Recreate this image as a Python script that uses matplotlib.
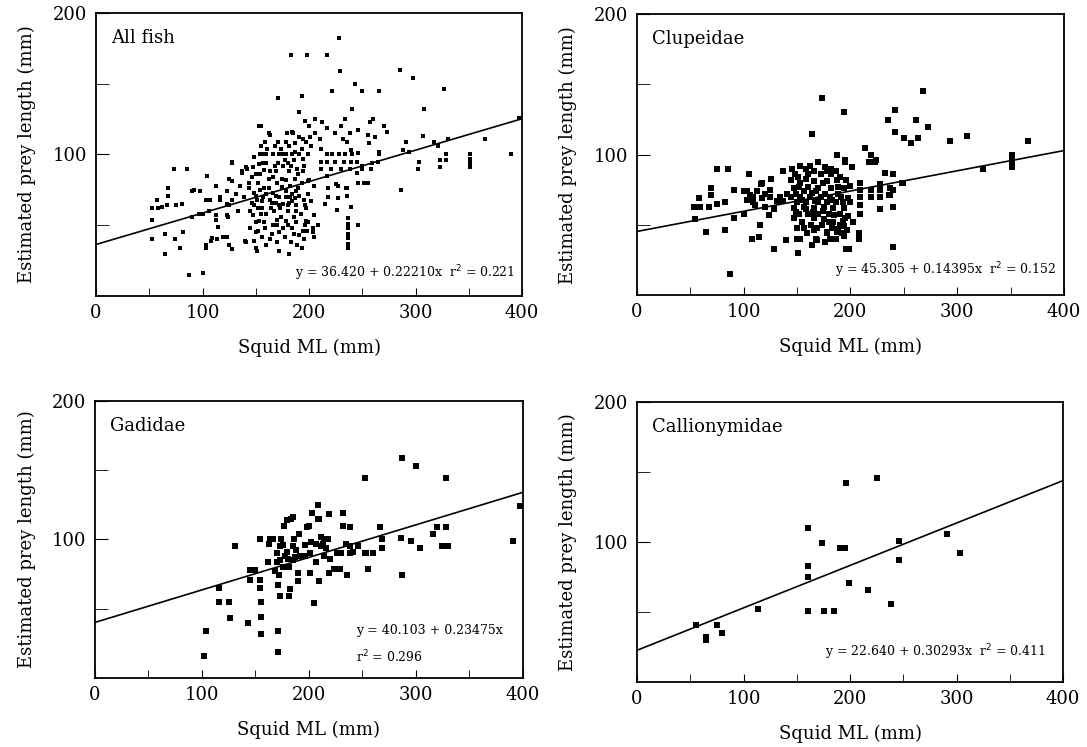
import matplotlib.pyplot as plt
from matplotlib.ticker import MultipleLocator

plt.rcParams['font.family'] = ['DejaVu Serif']

# ---- data (squid ML mm, prey length mm) ----
all_fish = [
    (228,182),(183,170),(198,170),(217,170),(229,159),(285,160),(298,154),(171,140),(193,141),(222,145),
    (243,150),(250,145),(266,145),(327,146),(240,132),(308,132),(191,130),(234,125),(260,125),(257,123),
    (196,124),(206,125),(212,123),(200,120),(217,119),(230,120),(155,120),(270,120),(273,116),(163,114),
    (179,115),(185,115),(206,115),(224,115),(238,115),(246,117),(255,114),(194,111),(201,112),(210,111),
    (232,111),(236,109),(262,112),(256,108),(291,109),(307,113),(317,109),(330,111),(365,111),(321,106),
    (397,126),(390,100),(288,103),(294,102),(303,95),(302,90),(323,96),(323,91),(329,100),(329,96),
    (351,100),(351,97),(351,94),(351,91),(266,100),(259,94),(250,92),(252,80),(255,80),(286,75),(246,50),
    (237,55),(237,51),(237,48),(237,44),(237,41),(237,37),(237,34),(204,48),(204,45),(205,42),
    (202,106),(211,104),(217,100),(211,95),(217,95),(224,95),(233,95),(239,95),(245,95),(246,101),
    (239,103),(211,90),(221,90),(230,90),(238,90),(245,87),(250,90),(258,90),(265,95),(266,102),
    (199,81),(205,78),(218,76),(227,78),(236,76),(218,70),(227,69),(236,71),(246,80),(217,85),
    (215,65),(226,61),(239,63),(202,67),(205,57),(199,52),(208,50),(225,79),(235,76),
    (222,100),(228,100),(234,100),(240,100),
    (154,100),(160,100),(166,100),(172,100),(178,100),(184,100),(191,100),
    (53,54),(53,62),(58,62),(57,68),(62,63),(68,76),(68,71),(67,64),(75,64),(81,65),(73,90),(85,90),
    (53,40),(65,44),(65,30),(74,40),(79,34),(82,45),(87,15),(100,16),(90,74),(90,56),(98,74),(97,58),
    (103,34),(104,85),(107,68),(108,39),(114,40),(123,42),(128,33),(128,94),(125,83),(113,78),(116,68),
    (113,54),(115,49),(123,74),(123,65),(124,56),(128,68),(137,87),(141,91),(139,70),(140,39),(151,32),
    (148,39),(128,81),(116,70),(125,64),(113,57),(123,57),(119,42),(125,36),(109,41),(103,36),(103,68),
    (106,60),(100,58),(92,75),
    (153,120),(162,115),(184,116),(159,109),(171,109),(178,109),(191,112),(197,109),(128,95),(137,88),
    (142,90),(147,91),(153,93),(156,100),(175,100),(187,102),(194,97),(158,89),(162,83),(169,88),
    (175,83),(181,88),(187,83),(194,88),(200,82),(144,76),(150,71),(156,67),(162,76),(169,71),(173,62),
    (178,74),(184,67),(191,71),(197,62),(147,57),(153,53),(150,45),(159,48),(166,50),(172,45),(178,53),
    (184,48),(191,43),(197,53),(141,38),(150,34),
    (146,84),(152,80),(158,76),(165,66),(170,80),(176,92),(182,78),(188,74),(193,80),(199,72),(146,66),
    (152,62),(160,58),(167,60),(174,56),(180,60),(186,56),(192,58),(198,46),(145,48),(156,42),(163,40),
    (170,38),(177,42),(183,38),(189,36),(195,40),(148,98),(155,106),(161,104),(168,106),(174,104),
    (181,106),(187,108),(193,104),(199,100),(144,80),(150,86),(157,94),(163,88),(171,94),(177,96),
    (183,92),(189,90),(195,92),(165,44),(172,32),(160,36),(181,30),(193,34),(145,60),(155,58),(135,78),
    (131,72),(133,60),(170,54),(176,65),(182,70),(188,64),(195,68),
    (148,73),(151,68),(154,75),(157,70),(160,72),(163,68),(166,73),(169,66),(172,70),(175,77),
    (178,70),(181,66),(184,72),(187,69),(190,76),(148,64),(156,62),(164,62),(172,64),(180,64),
    (188,60),(196,64),(150,52),(158,52),(170,50),(180,50),(188,52),(196,50),(154,86),(166,84),
    (178,82),(190,86),(160,94),(168,92),(180,94),(186,96),(152,46),(176,48),(186,44),(194,46),
]

clupeidae = [
    (268,145),(173,140),(194,130),(242,132),(235,125),(261,125),(273,120),(164,115),(242,116),(250,112),
    (257,108),(263,112),(293,110),(309,113),(366,110),(214,105),(219,100),(217,95),(223,95),(351,100),
    (351,97),(351,94),(351,91),(324,90),(249,80),(187,100),(195,96),(170,95),(182,90),(201,91),(232,87),
    (240,86),(228,79),(240,75),(236,71),(228,61),(240,63),(240,34),(209,80),(209,75),(209,70),(209,64),
    (209,58),(208,44),(208,40),(196,33),(199,33),(192,44),(194,49),(168,40),(178,44),(151,30),(150,40),
    (140,39),(128,33),(108,40),(114,41),(115,50),(124,57),(87,15),(53,63),(58,69),(59,63),(67,63),
    (69,71),(69,76),(75,65),(82,66),(54,54),(65,45),(82,46),(91,55),(91,75),(75,90),(85,90),(105,86),
    (100,74),(100,58),(126,83),(117,80),(103,68),(109,66),
    (219,75),(219,70),(228,75),(228,70),(237,76),(237,71),(248,80),(202,52),(224,96),
    (153,92),(162,92),(137,88),(145,90),(158,83),(147,76),(166,81),(178,81),(187,82),(194,76),(144,70),
    (153,70),(162,70),(172,70),(181,70),(191,70),(198,69),(147,62),(156,63),(166,62),(175,63),(184,62),
    (194,62),(147,55),(155,52),(166,55),(175,54),(184,52),(195,55),(150,48),(159,44),(169,48),(178,45),
    (187,45),(197,46),(153,40),(169,39),(181,40),(194,42),(103,74),(109,70),(117,69),(125,70),(131,67),
    (111,64),(120,63),(128,61),(116,79),(125,75),(137,67),(195,95),
    (150,66),(158,66),(170,66),(178,66),(186,66),(152,58),(160,58),(170,58),(180,58),(190,58),(152,77),
    (160,77),(170,76),(182,76),(188,72),(163,50),(173,50),(183,48),(190,50),(160,86),(172,86),(182,86),
    (190,84),(176,91),(168,74),(156,74),(144,82),(200,66),(200,78),(198,56),(176,38),(186,40),(164,36),
    (158,90),(151,84),
    (149,72),(155,68),(164,73),(167,67),(176,72),(183,68),(188,77),(193,66),(149,59),(158,61),
    (165,59),(174,60),(185,57),(193,53),(156,48),(166,46),(180,52),(188,47),(148,86),(166,88),
    (178,88),(186,88),(153,80),(174,80),(196,82),(141,72),(134,70),(120,72),(112,74),(106,71),
]

gadidae = [
    (287,159),(300,153),(328,144),(252,144),(397,124),(391,99),(208,125),(203,119),(219,118),(232,119),
    (209,115),(200,110),(183,115),(177,110),(191,104),(232,110),(238,109),(266,109),(320,109),(328,109),
    (316,104),(324,95),(330,95),(304,94),(295,99),(286,101),(268,100),(268,94),(131,95),(260,90),
    (252,90),(255,79),(287,74),(246,95),(238,95),(238,90),(230,90),(213,97),(216,94),(211,102),(229,79),
    (223,79),(219,76),(236,74),(201,90),(207,84),(201,76),(209,70),(190,76),(190,70),(181,80),(172,74),
    (171,67),(182,64),(173,59),(181,59),(205,54),(154,100),(163,97),(170,90),(174,100),(185,95),(192,88),
    (180,86),(162,84),(145,78),(150,78),(145,71),(154,71),(154,65),(116,65),(116,55),(125,55),(126,43),
    (143,40),(155,55),(155,44),(155,32),(171,34),(171,19),(104,34),(102,16),
    (164,100),(173,95),(179,91),(185,85),(187,87),(173,85),(207,97),(211,95),(214,100),(226,90),
    (235,97),(241,91),(253,90),(179,114),(185,116),(198,109),(208,115),
    (166,100),(176,96),(186,100),(196,96),(178,88),(188,92),(196,88),(202,98),(214,88),(220,86),
    (218,100),(170,84),(176,80),(168,77),
]

callionymidae = [
    (55,41),(65,32),(65,30),(75,41),(80,35),(114,52),(161,110),(161,83),(161,75),(161,51),(174,99),
    (176,51),(185,51),(191,96),(195,96),(196,142),(225,146),(199,71),(217,66),(238,56),(246,101),
    (246,87),(291,106),(303,92),
]

titles = ['All fish', 'Clupeidae', 'Gadidae', 'Callionymidae']
intercepts = [36.420, 45.305, 40.103, 22.640]
slopes = [0.22210, 0.14395, 0.23475, 0.30293]
eq_texts = ['y = 36.420 + 0.22210x  r$^2$ = 0.221',
            'y = 45.305 + 0.14395x  r$^2$ = 0.152',
            'y = 40.103 + 0.23475x\nr$^2$ = 0.296',
            'y = 22.640 + 0.30293x  r$^2$ = 0.411']
datasets = [all_fish, clupeidae, gadidae, callionymidae]

fig = plt.figure(figsize=(10.87, 7.47), dpi=100)
rects = [[0.0883, 0.6037, 0.392, 0.379],
         [0.586, 0.605, 0.3928, 0.376],
         [0.0874, 0.0924, 0.3937, 0.371],
         [0.586, 0.0870, 0.392, 0.375]]

for i in range(4):
    ax = fig.add_axes(rects[i])
    xs = [p[0] for p in datasets[i]]
    ys = [p[1] for p in datasets[i]]
    if i == 0:
        ax.plot(xs, ys, 's', color='black', markersize=2.3, markeredgewidth=0)
    else:
        ax.plot(xs, ys, 's', color='black', markersize=4.4, markeredgewidth=0)
    ax.plot([0, 400], [intercepts[i], intercepts[i] + slopes[i] * 400], color='black', linewidth=1.2)

    ax.set_xlim(0, 400)
    ax.set_ylim(0, 200)
    ax.xaxis.set_major_locator(MultipleLocator(100))
    ax.xaxis.set_minor_locator(MultipleLocator(50))
    ax.set_yticks([100, 200])
    ax.set_yticks([50, 150], minor=True)
    ax.tick_params(which='both', direction='in', top=False, right=False, labelsize=13)
    ax.tick_params(axis='x', which='both', length=6, pad=6)
    ax.tick_params(axis='y', which='both', length=9, pad=6)
    for s in ax.spines.values():
        s.set_linewidth(1.3)

    ax.text(14, 182, titles[i], fontsize=13, va='center', ha='left')
    if i == 2:
        ax.text(244, 24, eq_texts[i], fontsize=9, ha='left', va='center', linespacing=1.9)
    elif i == 3:
        ax.text(384, 21, eq_texts[i], fontsize=9, ha='right', va='center')
    else:
        ax.text(393, 16 if i == 0 else 18, eq_texts[i], fontsize=9, ha='right', va='center')

    ax.set_xlabel('Squid ML (mm)', fontsize=13, labelpad=12)
    ax.set_ylabel('Estimated prey length (mm)', fontsize=13, labelpad=12)

fig.savefig('out.png', dpi=100)
